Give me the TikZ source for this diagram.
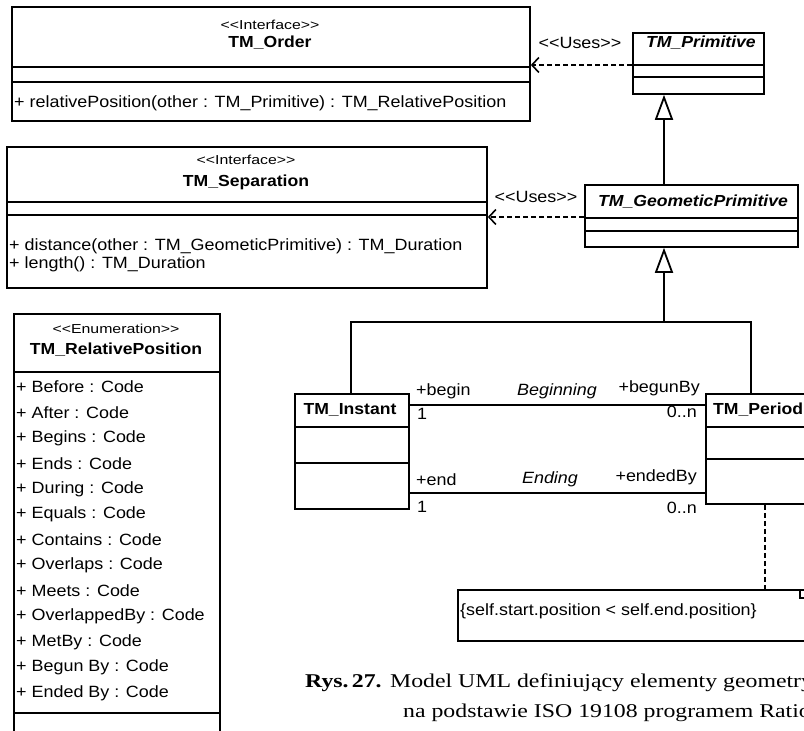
\documentclass[tikz,border=0pt]{standalone}
\usepackage{fontspec}
\setmainfont{Liberation Serif}
\newfontfamily\umlfont{Liberation Sans}[FakeStretch=1.1]
\newfontfamily\stfont{Liberation Sans}[FakeStretch=1.22]
\newfontfamily\capfont{Liberation Serif}[FakeStretch=1.22]
\usetikzlibrary{arrows.meta}
\tikzset{
  cls/.style={draw, line width=1.8pt, anchor=north west, inner sep=0pt, fill=white},
  cline/.style={line width=1.8pt},
  mem/.style={anchor=west, inner sep=0pt, font=\umlfont\fontsize{16.3}{18}\selectfont},
  nm/.style={inner sep=0pt, font=\umlfont\bfseries\fontsize{16}{18}\selectfont},
  inm/.style={inner sep=0pt, font=\umlfont\bfseries\itshape\fontsize{16}{18}\selectfont},
  st/.style={inner sep=0pt, font=\stfont\fontsize{13}{15}\selectfont},
  rl/.style={inner sep=0pt, font=\umlfont\fontsize{16.3}{18}\selectfont},
  irl/.style={inner sep=0pt, font=\umlfont\itshape\fontsize{16.3}{18}\selectfont},
  dep/.style={line width=1.6pt, dash pattern=on 5pt off 3pt, -{Straight Barb[length=7pt,width=15pt]}},
  gen/.style={line width=1.8pt, -{Triangle[open, length=25pt, width=18pt, fill=white]}},
  assoc/.style={line width=1.8pt},
  notelink/.style={line width=1.6pt, dash pattern=on 5pt off 3pt},
  captxt/.style={inner sep=0pt, anchor=west, font=\capfont\fontsize{19.5}{22}\selectfont},
}
\begin{document}
\begin{tikzpicture}[x=1pt,y=-1pt]
\useasboundingbox (0,0) rectangle (804,731);
\clip (0,0) rectangle (804,731);
\fill[white] (0,0) rectangle (804,731);

% TM_Order
\node[cls, minimum width=518pt, minimum height=114pt] (order) at (11,6) {};
\draw[cline] (order.west |- 0,67) -- (order.east |- 0,67);
\draw[cline] (order.west |- 0,82) -- (order.east |- 0,82);
\node[st] (orderst) at (270,25) {<<Interface>>};
\node[nm] (ordernm) at (270,43) {TM\_Order};
\node[mem] (orderm1) at (14,103) {+ relativePosition(other : TM\_Primitive) : TM\_RelativePosition};

% TM_Separation
\node[cls, minimum width=480pt, minimum height=141pt] (sep) at (6,146) {};
\draw[cline] (sep.west |- 0,202) -- (sep.east |- 0,202);
\draw[cline] (sep.west |- 0,215) -- (sep.east |- 0,215);
\node[st] (sepst) at (246,160) {<<Interface>>};
\node[nm] (sepnm) at (246,182) {TM\_Separation};
\node[mem] (sepm1) at (9,246) {+ distance(other : TM\_GeometicPrimitive) : TM\_Duration};
\node[mem] (sepm2) at (9,264) {+ length() : TM\_Duration};

% TM_RelativePosition
\node[cls, minimum width=206pt, minimum height=440pt] (rel) at (13,313) {};
\draw[cline] (rel.west |- 0,372) -- (rel.east |- 0,372);
\draw[cline] (rel.west |- 0,713) -- (rel.east |- 0,713);
\node[st] (relst) at (116,329) {<<Enumeration>>};
\node[nm] (relnm) at (116,350) {TM\_RelativePosition};
\foreach \t [count=\i from 0] in {Before, After, Begins, Ends, During, Equals, Contains, Overlaps, Meets, OverlappedBy, MetBy, Begun By, Ended By}
  \node[mem] (relm\i) at (16,{387+25.5*\i}) {+ \t\ : Code};

% TM_Primitive
\node[cls, minimum width=131pt, minimum height=61pt] (prim) at (632,32) {};
\draw[cline] (prim.west |- 0,65) -- (prim.east |- 0,65);
\draw[cline] (prim.west |- 0,77) -- (prim.east |- 0,77);
\node[inm] (primnm) at (701,43) {TM\_Primitive};

% TM_GeometicPrimitive
\node[cls, minimum width=213pt, minimum height=62pt] (geo) at (584,184) {};
\draw[cline] (geo.west |- 0,218) -- (geo.east |- 0,218);
\draw[cline] (geo.west |- 0,231) -- (geo.east |- 0,231);
\node[inm] (geonm) at (693,202) {TM\_GeometicPrimitive};

% TM_Instant
\node[cls, minimum width=114pt, minimum height=115pt] (inst) at (294,393) {};
\draw[cline] (inst.west |- 0,427) -- (inst.east |- 0,427);
\draw[cline] (inst.west |- 0,463) -- (inst.east |- 0,463);
\node[nm] (instnm) at (350,410) {TM\_Instant};

% TM_Period
\node[cls, minimum width=130pt, minimum height=110pt] (per) at (705,393) {};
\draw[cline] (per.west |- 0,427) -- (per.east |- 0,427);
\draw[cline] (per.west |- 0,459) -- (per.east |- 0,459);
\node[nm, anchor=west] (pernm) at (713,410) {TM\_Period};

% constraint note
\node[cls, minimum width=380pt, minimum height=51pt] (note) at (457,589) {};
\draw[line width=1.6pt] (800,589) -- (800,598) -- (815,598);
\node[mem] (notet) at (460,611) {\{self.start.position < self.end.position\}};

% dependencies
\draw[dep] (prim.west |- 0,65) -- (order.east |- 0,65);
\node[rl] (uses1) at (580,43) {<<Uses>>};
\draw[dep] (geo.west |- 0,217) -- (sep.east |- 0,217);
\node[rl] (uses2) at (536,197) {<<Uses>>};

% generalizations
\coordinate (g1) at (664,0);
\draw[gen] (geo.north -| g1) -- (prim.south -| g1);
\coordinate (j) at (664,322);
\coordinate (ji) at (351,322);
\coordinate (jp) at (751,322);
\draw[assoc] (inst.north -| ji) -- (ji) -- (jp) -- (per.north -| jp);
\draw[gen] (j) -- (geo.south -| j);

% associations
\coordinate (a1) at (0,405);
\coordinate (a2) at (0,493);
\draw[assoc] (inst.east |- a1) -- (per.west |- a1);
\draw[assoc] (inst.east |- a2) -- (per.west |- a2);
\node[rl, anchor=west] (b1) at (416,391) {+begin};
\node[irl] (b2) at (557,391) {Beginning};
\node[rl, anchor=east] (b3) at (700,388) {+begunBy};
\node[rl, anchor=west] (b4) at (417,414) {1};
\node[rl, anchor=east] (b5) at (697,412) {0..n};
\node[rl, anchor=west] (e1) at (416,480) {+end};
\node[irl] (e2) at (550,479) {Ending};
\node[rl, anchor=east] (e3) at (697,477) {+endedBy};
\node[rl, anchor=west] (e4) at (417,507) {1};
\node[rl, anchor=east] (e5) at (697,508) {0..n};

% note link
\coordinate (nl) at (765,0);
\draw[notelink] (per.south -| nl) -- (note.north -| nl);

% caption
\node[captxt] (rys) at (305,683) {\bfseries Rys.\,27.};
\node[captxt] (cap1) at (390,683) {Model UML definiujący elementy geometryczne};
\node[captxt] (cap2) at (403,713) {na podstawie ISO 19108 programem Rational};
\end{tikzpicture}
\end{document}
